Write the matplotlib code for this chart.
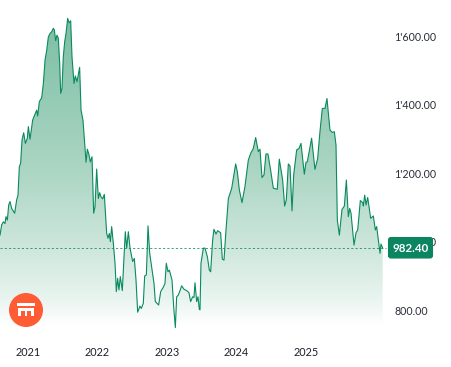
import numpy as np
import matplotlib
matplotlib.use("Agg")
import matplotlib.pyplot as plt
from matplotlib.colors import LinearSegmentedColormap
from matplotlib.patches import Circle, Rectangle, FancyBboxPatch, Polygon

plt.rcParams['font.family'] = ['Lato', 'DejaVu Sans']

years_since_2021 = [
 -0.403,-0.379,-0.355,-0.331,-0.317,-0.297,-0.278,-0.259,-0.235,-0.192,-0.163,-0.144,-0.125,-0.106,-0.086,-0.062,-0.038,-0.010,0.005,0.029,
 0.067,0.096,0.125,0.139,0.163,0.197,0.221,0.245,0.269,0.293,0.317,0.341,0.365,0.379,0.398,0.417,0.436,0.456,0.470,0.489,
 0.508,0.528,0.547,0.571,0.590,0.614,0.633,0.662,0.681,0.705,0.743,0.763,0.791,0.811,0.835,0.854,0.878,0.897,0.921,0.945,
 0.964,0.988,1.012,1.031,1.050,1.074,1.098,1.132,1.151,1.170,1.185,1.204,1.228,1.252,1.271,1.290,1.309,1.328,1.357,1.381,
 1.400,1.420,1.444,1.468,1.506,1.530,1.554,1.578,1.611,1.631,1.659,1.679,1.703,1.727,1.751,1.779,1.813,1.832,1.880,1.909,
 1.947,1.971,1.990,2.014,2.034,2.072,2.096,2.120,2.139,2.163,2.187,2.211,2.245,2.283,2.316,2.340,2.369,2.388,2.403,2.427,
 2.446,2.465,2.475,2.489,2.523,2.547,2.581,2.609,2.628,2.657,2.676,2.705,2.729,2.772,2.796,2.820,2.849,2.883,2.931,2.988,
 3.012,3.041,3.079,3.122,3.170,3.204,3.242,3.276,3.314,3.338,3.367,3.396,3.424,3.453,3.491,3.530,3.587,3.616,3.664,3.693,
 3.717,3.746,3.770,3.799,3.823,3.866,3.899,3.928,3.976,4.000,4.019,4.081,4.129,4.168,4.201,4.235,4.273,4.302,4.345,4.379,
 4.408,4.432,4.451,4.480,4.518,4.552,4.581,4.609,4.629,4.648,4.691,4.720,4.744,4.782,4.816,4.825,4.845,4.864,4.888,4.931,
 4.969,4.998,5.017,5.065,5.079,5.103]
prices = [
 1020,1050,1059,1054,1074,1064,1108,1118,1098,1084,1123,1137,1220,1230,1298,1319,1288,1303,1337,1300,
 1356,1371,1385,1368,1410,1421,1463,1531,1560,1599,1609,1614,1624,1619,1588,1604,1595,1522,1434,1449,
 1541,1585,1609,1653,1640,1646,1541,1463,1485,1468,1510,1385,1356,1298,1233,1271,1254,1234,1249,1084,
 1103,1213,1127,1144,1132,1126,1139,1025,1011,1025,1001,1045,996,938,855,894,860,899,858,957,
 1030,982,1030,982,943,952,889,795,813,806,821,901,904,1047,967,928,879,826,816,855,
 868,879,938,913,918,889,811,750,840,845,858,872,862,858,852,826,840,838,881,826,
 840,803,802,938,982,982,957,918,913,1006,1037,1023,1033,1027,950,947,1035,1127,1157,1228,
 1205,1152,1115,1162,1239,1259,1273,1305,1264,1271,1188,1196,1257,1257,1210,1157,1154,1242,1181,1105,
 1123,1228,1222,1091,1196,1269,1273,1288,1198,1233,1234,1303,1212,1244,1322,1390,1390,1419,1327,1320,
 1322,1283,1064,1020,1095,1105,1181,1074,1098,1084,991,1027,1035,1121,1115,1105,1137,1108,1130,1069,
 1076,1035,1045,967,994,982.4]
last_price = 982.4
year_labels = ['2021', '2022', '2023', '2024', '2025']
price_ticks = [800, 1000, 1200, 1400, 1600]
price_labels = ['800.00', "1'000.00", "1'200.00", "1'400.00", "1'600.00"]

GREEN = '#0a8a5f'
x = 2021 + np.array(years_since_2021)
y = np.array(prices)

fig = plt.figure(figsize=(4.52, 3.67), dpi=100)
ax = fig.add_axes([0, 0, 1, 1])
ax.axis('off')

def c(r, g, b):
    return (r / 255, g / 255, b / 255)

cmap = LinearSegmentedColormap.from_list('g', [
    (0.00, c(255, 255, 255)), (0.09, c(232, 244, 239)), (0.26, c(205, 230, 220)),
    (0.50, c(172, 214, 196)), (0.90, c(133, 195, 170)), (1.00, c(125, 190, 164))])
floor = 755
top = 1655
im = ax.imshow(np.linspace(1, 0, 256).reshape(-1, 1), cmap=cmap, aspect='auto',
               extent=[x[0], x[-1], floor, top], zorder=1, vmin=0, vmax=1)
clip = Polygon(np.vstack([[x[0], floor], np.column_stack([x, y]), [x[-1], floor]]),
               closed=True, transform=ax.transData, fc='none', ec='none')
ax.add_patch(clip)
im.set_clip_path(clip)
ax.set_xlim(2020.597, 2027.101)
ax.set_ylim(635.0, 1706.6)

ax.plot(x, y, color=GREEN, lw=0.8, zorder=3, solid_joinstyle='round')
ax.plot([x[0], 2026.15], [last_price, last_price], color=GREEN, lw=0.7,
        dashes=(2.2, 2.2), alpha=0.8, zorder=2)

for i, lab in enumerate(year_labels):
    ax.text(2021 + i, 676, lab, ha='center', va='center', fontsize=7.8, color='#1b1f2a', zorder=5)
for v, lab in zip(price_ticks, price_labels):
    ax.text(2026.27, v - 2, lab, ha='left', va='center', fontsize=7.7, color='#2a2e39', zorder=4)

# overlay in pixel units for the price tag and logo
ov = fig.add_axes([0, 0, 1, 1], facecolor='none')
ov.set_xlim(0, 452)
ov.set_ylim(367, 0)
ov.axis('off')
ov.add_patch(FancyBboxPatch((388.5, 237.5), 44, 20.5, boxstyle='round,pad=0,rounding_size=2.5',
                            fc='#0a8560', ec='#0a8560', lw=0.8, zorder=6))
ov.text(410.5, 248, f'{last_price:.2f}', ha='center', va='center', color='white',
        fontsize=8.3, fontweight='bold', zorder=7)
ov.add_patch(Circle((26, 310), 17, fc='#ff5c35', ec='none', zorder=6))
for r in [(17, 303, 18, 3), (18.5, 308, 15, 2.5), (18.5, 308, 2.4, 8), (24.8, 308, 2.4, 8), (31.2, 308, 2.4, 8)]:
    ov.add_patch(Rectangle((r[0], r[1]), r[2], r[3], fc='white', ec='none', zorder=7))

fig.savefig('out.png', dpi=100)
